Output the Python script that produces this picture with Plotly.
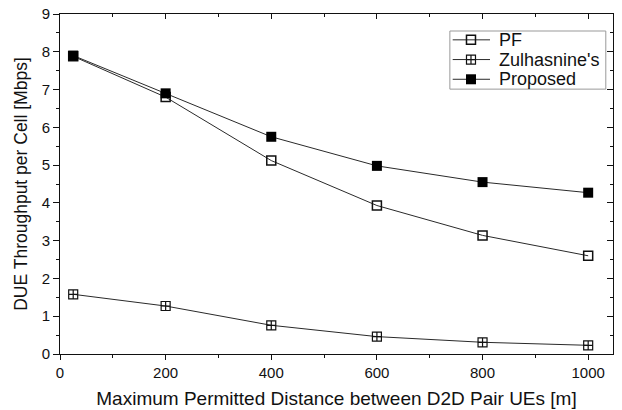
import plotly.graph_objects as go

distance = [25, 200, 400, 600, 800, 1000]
pf = [7.88, 6.80, 5.12, 3.93, 3.14, 2.60]
zulhasnine = [1.58, 1.27, 0.76, 0.46, 0.31, 0.23]
proposed = [7.90, 6.90, 5.75, 4.98, 4.55, 4.27]

series_names = ["PF", "Zulhasnine's", "Proposed"]

x_ticks = [0, 200, 400, 600, 800, 1000]
y_ticks = [0, 1, 2, 3, 4, 5, 6, 7, 8, 9]

x_range = [0, 1047]
y_range = [-0.0001, 9.0001]

line = dict(color="#2a2a2a", width=1)
markers = [
    dict(symbol="square-open", size=9, color="#111111", line=dict(width=1.5)),
    dict(symbol="square-cross-open", size=9, color="#111111", line=dict(width=1.2)),
    dict(symbol="square", size=10, color="#000000"),
]

fig = go.Figure()
for name, vals, mk in zip(series_names, [pf, zulhasnine, proposed], markers):
    fig.add_trace(go.Scatter(x=distance, y=vals, name=name, mode="lines+markers",
                             line=line, marker=mk, showlegend=False))

# dummy trace for mirrored (top / right) axes
fig.add_trace(go.Scatter(x=[0], y=[0], xaxis="x2", yaxis="y2", showlegend=False,
                         mode="markers", marker=dict(opacity=0), hoverinfo="skip"))

# compact legend drawn on an overlay axis spanning the plot area in [0, 1] units
leg_x0, leg_x1 = 0.705, 0.987
leg_y0, leg_y1 = 0.779, 0.950
row_y = [0.924, 0.866, 0.808]
sym_x = [0.7101, 0.7776]
mark_x = 0.7432
text_x = 0.790
for name, mk, ry in zip(series_names, markers, row_y):
    fig.add_trace(go.Scatter(x=sym_x, y=[ry, ry], xaxis="x3", yaxis="y3", mode="lines",
                             line=line, showlegend=False, hoverinfo="skip"))
    fig.add_trace(go.Scatter(x=[mark_x], y=[ry], xaxis="x3", yaxis="y3", mode="markers",
                             marker=mk, showlegend=False, hoverinfo="skip"))

annotations = [dict(text=name, x=text_x, y=ry, xref="paper", yref="paper",
                    xanchor="left", yanchor="middle", showarrow=False,
                    font=dict(size=18, color="#111111"))
               for name, ry in zip(series_names, row_y)]

shapes = [dict(type="rect", xref="paper", yref="paper", x0=leg_x0, x1=leg_x1,
               y0=leg_y0, y1=leg_y1, line=dict(color="#999999", width=1),
               fillcolor="white", layer="below")]

font = "Liberation Sans, Arial, sans-serif"
ax_common = dict(showline=True, linecolor="#111111", linewidth=1, showgrid=False, zeroline=False,
                 tickcolor="#111111", tickwidth=1)
fig.update_layout(
    width=622, height=410,
    margin=dict(l=60, r=9, t=14, b=56, autoexpand=False),
    paper_bgcolor="white", plot_bgcolor="white",
    font=dict(family=font, size=15, color="#111111"),
    showlegend=False,
    annotations=annotations,
    shapes=shapes,
    xaxis=dict(range=x_range, tickvals=x_ticks, ticks="outside", ticklen=5,
               minor=dict(dtick=100, tick0=0, ticks="outside", ticklen=3, tickcolor="#111111"),
               title=dict(text="Maximum Permitted Distance between D2D Pair UEs [m]",
                          font=dict(size=19), standoff=11), **ax_common),
    yaxis=dict(range=y_range, tickvals=y_ticks, ticks="outside", ticklen=6,
               minor=dict(dtick=0.5, tick0=0, ticks="outside", ticklen=3, tickcolor="#111111"),
               title=dict(text="DUE Throughput per Cell [Mbps]", font=dict(size=17.5), standoff=9),
               **ax_common),
    xaxis2=dict(range=x_range, overlaying="x", side="top", tickvals=x_ticks, ticks="inside",
                ticklen=5, showticklabels=False,
                minor=dict(dtick=100, tick0=0, ticks="inside", ticklen=3, tickcolor="#111111"),
                **ax_common),
    yaxis2=dict(range=y_range, overlaying="y", side="right", tickvals=y_ticks, ticks="inside",
                ticklen=6, showticklabels=False,
                minor=dict(dtick=0.5, tick0=0, ticks="inside", ticklen=3, tickcolor="#111111"),
                **ax_common),
    xaxis3=dict(range=[0, 1], overlaying="x", visible=False, fixedrange=True),
    yaxis3=dict(range=[0, 1], overlaying="y", visible=False, fixedrange=True, anchor="x3"),
)

# remove the browser's default 8px body margin so the 622x410 figure fills the window
fig.write_html("out.html", config={"displayModeBar": False},
               post_script="document.body.style.margin='0';")
